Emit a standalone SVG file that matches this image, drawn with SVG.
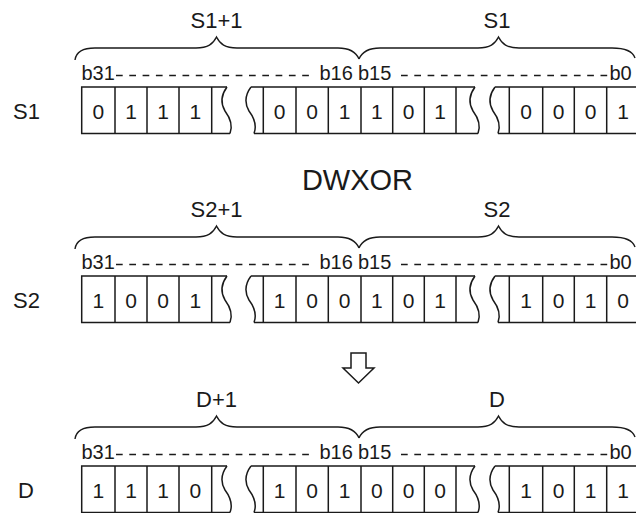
<svg xmlns="http://www.w3.org/2000/svg" xmlns:xlink="http://www.w3.org/1999/xlink" width="636" height="513" viewBox="0 0 636 513">
<style>
text{font-family:"Liberation Sans",Arial,sans-serif;fill:#1a1a1a}
.lbl{font-size:22px}
.mid{text-anchor:middle}
.bit{font-size:21px;text-anchor:middle}
.bl{font-size:20px}
.ln{fill:none;stroke:#1a1a1a;stroke-width:1.5}
.br{fill:none;stroke:#1a1a1a;stroke-width:1.4}
.dash{fill:none;stroke:#1a1a1a;stroke-width:1.3;stroke-dasharray:6.7 6.6}
</style>
<defs>
<path id="wave" d="M6,0 Q-3,12 4,24 Q13,36 9,46.5"/>
<g id="frame">
<path class="br" d="M75,60 C76,52 82,48 95,48 L196,48 C208,48 213,44 216.5,37 C220,44 225,48 237,48 L338,48 C350,48 356,52 359,59"/>
<path class="br" d="M359,59 C362,52 368,48 380,48 L478,48 C490,48 495,44 498.5,37 C502,44 507,48 519,48 L612,48 C626,48 633,52 635,58"/>
<line class="dash" x1="116" y1="75.5" x2="311" y2="75.5"/>
<line class="dash" x1="401" y1="75.5" x2="608" y2="75.5"/>
<path class="ln" d="M227,87 H81.7 V133.5 H230 M251,87 H475 M254,133.5 H478 M495,87 H640 M498,133.5 H640"/>
<path class="ln" d="M115,87V133.5 M147,87V133.5 M179,87V133.5 M211.7,87V133.5 M263.3,87V133.5 M296,87V133.5 M328.3,87V133.5 M361,87V133.5 M392.7,87V133.5 M424.3,87V133.5 M456,87V133.5 M509.3,87V133.5 M542.7,87V133.5 M574.3,87V133.5 M606.7,87V133.5"/>
<use xlink:href="#wave" href="#wave" class="ln" transform="translate(221,87)"/>
<use xlink:href="#wave" href="#wave" class="ln" transform="translate(245,87)"/>
<use xlink:href="#wave" href="#wave" class="ln" transform="translate(469,87)"/>
<use xlink:href="#wave" href="#wave" class="ln" transform="translate(489,87)"/>
</g>
</defs>

<g id="row-S1">
<use xlink:href="#frame" href="#frame"/>
<text class="lbl mid" x="216.5" y="28">S1+1</text>
<text class="lbl mid" x="497" y="28">S1</text>
<text class="lbl" x="13" y="118.5">S1</text>
<text class="bl" x="81.5" y="80">b31</text>
<text class="bl" x="319.5" y="80">b16</text>
<text class="bl" x="358" y="80">b15</text>
<text class="bl" x="609.5" y="80">b0</text>
<g>
<text class="bit" x="98.3" y="118.5">0</text><text class="bit" x="131" y="118.5">1</text><text class="bit" x="163" y="118.5">1</text><text class="bit" x="195.3" y="118.5">1</text>
<text class="bit" x="279.7" y="118.5">0</text><text class="bit" x="312.2" y="118.5">0</text><text class="bit" x="344.7" y="118.5">1</text><text class="bit" x="376.8" y="118.5">1</text><text class="bit" x="408.5" y="118.5">0</text><text class="bit" x="440.2" y="118.5">1</text>
<text class="bit" x="526" y="118.5">0</text><text class="bit" x="558.5" y="118.5">0</text><text class="bit" x="590.5" y="118.5">0</text><text class="bit" x="623" y="118.5">1</text>
</g>
</g>

<g id="op-DWXOR">
<text class="mid" x="357.5" y="190" style="font-size:29px">DWXOR</text>
</g>

<g id="row-S2" transform="translate(0,189)">
<use xlink:href="#frame" href="#frame"/>
<text class="lbl mid" x="216.5" y="28">S2+1</text>
<text class="lbl mid" x="497" y="28">S2</text>
<text class="lbl" x="13" y="118.5">S2</text>
<text class="bl" x="81.5" y="80">b31</text>
<text class="bl" x="319.5" y="80">b16</text>
<text class="bl" x="358" y="80">b15</text>
<text class="bl" x="609.5" y="80">b0</text>
<g>
<text class="bit" x="98.3" y="118.5">1</text><text class="bit" x="131" y="118.5">0</text><text class="bit" x="163" y="118.5">0</text><text class="bit" x="195.3" y="118.5">1</text>
<text class="bit" x="279.7" y="118.5">1</text><text class="bit" x="312.2" y="118.5">0</text><text class="bit" x="344.7" y="118.5">0</text><text class="bit" x="376.8" y="118.5">1</text><text class="bit" x="408.5" y="118.5">0</text><text class="bit" x="440.2" y="118.5">1</text>
<text class="bit" x="526" y="118.5">1</text><text class="bit" x="558.5" y="118.5">0</text><text class="bit" x="590.5" y="118.5">1</text><text class="bit" x="623" y="118.5">0</text>
</g>
</g>

<g id="arrow-result">
<polygon class="ln" points="351,353 366,353 366,368 374,368 358.5,383 343,368 351,368"/>
</g>

<g id="row-D" transform="translate(0,379)">
<use xlink:href="#frame" href="#frame"/>
<text class="lbl mid" x="216.5" y="28">D+1</text>
<text class="lbl mid" x="497" y="28">D</text>
<text class="lbl" x="18" y="118.5">D</text>
<text class="bl" x="81.5" y="80">b31</text>
<text class="bl" x="319.5" y="80">b16</text>
<text class="bl" x="358" y="80">b15</text>
<text class="bl" x="609.5" y="80">b0</text>
<g>
<text class="bit" x="98.3" y="118.5">1</text><text class="bit" x="131" y="118.5">1</text><text class="bit" x="163" y="118.5">1</text><text class="bit" x="195.3" y="118.5">0</text>
<text class="bit" x="279.7" y="118.5">1</text><text class="bit" x="312.2" y="118.5">0</text><text class="bit" x="344.7" y="118.5">1</text><text class="bit" x="376.8" y="118.5">0</text><text class="bit" x="408.5" y="118.5">0</text><text class="bit" x="440.2" y="118.5">0</text>
<text class="bit" x="526" y="118.5">1</text><text class="bit" x="558.5" y="118.5">0</text><text class="bit" x="590.5" y="118.5">1</text><text class="bit" x="623" y="118.5">1</text>
</g>
</g>
</svg>
